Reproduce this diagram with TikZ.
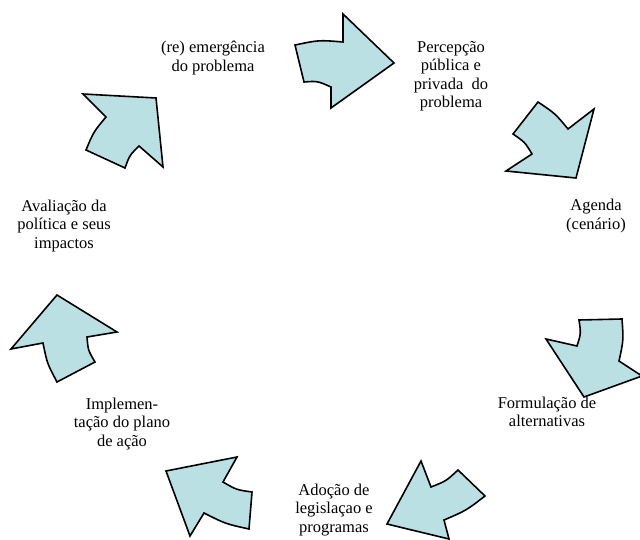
\documentclass[tikz,border=0pt]{standalone}
\usepackage{fontspec}
\setmainfont{Liberation Serif}
\definecolor{arrowfill}{RGB}{187,224,227}
\begin{document}
\begin{tikzpicture}[x=1pt,y=-1pt,
  cyclearrow/.style={draw=black,fill=arrowfill,line width=1.6pt,line join=miter},
  lbl/.style={align=center,inner sep=0pt,font=\fontsize{16.5}{18.5}\selectfont}]
\useasboundingbox (0,0) rectangle (640,540);
% arrow 1 (top, pointing right)
\draw[cyclearrow] (295,45) .. controls (319,40) .. (343,42) -- (343,14) -- (394,63) -- (331,108) -- (331,87) .. controls (317.5,81) .. (304,82) -- cycle;
% arrow 2 (upper right)
\draw[cyclearrow] (538,102) -- (513,134) .. controls (525,142.3) .. (532,154) -- (506,171) -- (576,178) -- (594,109) -- (568,129) .. controls (555.4,113.7) .. cycle;
% arrow 3 (right)
\draw[cyclearrow] (579,320) -- (622,319) .. controls (623.5,340.5) .. (619,361) -- (642,376) -- (584,397) -- (546,339) -- (577,346) .. controls (581,333.5) .. cycle;
% arrow 4 (bottom right)
\draw[cyclearrow] (421,461) -- (431,487) .. controls (446.2,481) .. (458,470) -- (485,496) .. controls (466.2,510.5) .. (444,520) -- (449,539) -- (387,524) -- cycle;
% arrow 5 (bottom left)
\draw[cyclearrow] (166,471) -- (237,457) -- (223,482) .. controls (236.4,489.8) .. (252,492) -- (249,529) .. controls (225.4,523.8) .. (204,513) -- (190,536) -- cycle;
% arrow 6 (left)
\draw[cyclearrow] (57,295) -- (117,332) -- (87,337) .. controls (88.1,350.3) .. (95,362) -- (57,382) .. controls (47.1,363.3) .. (43,343) -- (11,349) -- cycle;
% arrow 7 (upper left)
\draw[cyclearrow] (83,94) -- (156,98) -- (163,167) -- (139,146) .. controls (129.6,155.3) .. (125,168) -- (86,150) .. controls (93.6,131.8) .. (106,117) -- cycle;
% labels
\node[lbl] (reemerg) at (213,58) {(re) emergência\\do problema};
\node[lbl] (percep) at (451,76) {Percepção\\pública e\\privada~ do\\problema};
\node[lbl] (agenda) at (596,216) {Agenda\\(cenário)};
\node[lbl] (formul) at (547,412) {Formulação de\\alternativas};
\node[lbl] (adocao) at (334,510) {Adoção de\\legislaçao e\\programas};
\node[lbl] (implem) at (122,424) {Implemen-\\tação do plano\\de ação};
\node[lbl] (avalia) at (64,226) {Avaliação da\\política e seus\\impactos};
\end{tikzpicture}
\end{document}
